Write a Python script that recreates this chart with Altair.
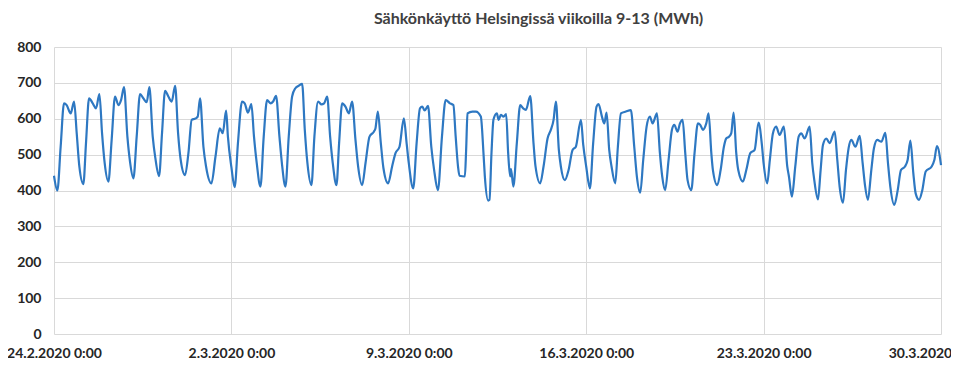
import json
import altair as alt
import pandas as pd

# hours since 24.2.2020 0:00
hours = [
    0, 3.2, 6.3, 9.5, 12, 15.8, 19, 21.5,
    24, 27.8, 30.3, 33.2, 36.7, 39.8, 43, 45.5,
    48, 51.5, 54.6, 57.8, 61, 63.5, 66.3, 69.5,
    72, 75.2, 78.3, 81.5, 84.6, 87.8, 90.3, 93.5,
    96, 99.5, 102.3, 105.2, 108.3, 111.5, 114.7, 117.5,
    120, 124.1, 127.3, 130.4, 134.2, 136.1, 138.3, 141.5,
    144, 149.1, 152.9, 157, 159.8, 163, 164.7,
    168, 171.1, 174.2, 178.1, 180.6, 183.7, 186.9, 189.4,
    192, 195.5, 198.6, 201.8, 205, 207.5, 210.3, 213.5,
    216, 219.2, 222.3, 225.5, 228.6, 231.8, 235, 237.5,
    240, 243.8, 246.6, 250.1, 253.3, 255.8, 258.7, 261.5,
    264, 267.5, 270, 272.9, 276, 279.2, 282.3, 285.5,
    288, 291.8, 295, 298.8, 302.9, 304.4, 306.7, 309.5,
    312, 316.4, 320.2, 323.4, 327.2, 331.3, 334,
    336, 340.2, 343.4, 346.6, 348.8, 351, 354.2, 357.3,
    360, 363.6, 367.4, 370.9, 375, 378.2, 380.4, 382.6,
    384, 389.1, 390.3, 391.6, 396.3, 399.5, 404.2, 406.8,
    408, 411.2, 412.4, 414.3, 416.2, 419.4, 421, 423.2, 425.7, 428.2, 430.1,
    432, 432.8, 435, 438.3, 441.5, 444.3, 446.9, 451, 454.1,
    456, 460.4, 463.6, 467.4, 470.5, 473.1, 475.3, 478.1,
    480, 483.8, 487.3, 491.1, 494.2, 499, 501.2,
    504, 507.5, 510.6, 513.8, 515.7, 518.9, 521.1, 523.3, 525.8,
    528, 531.5, 534, 536.9, 541.6, 546.3, 549.5,
    552, 555.2, 558, 561.2, 564.3, 566.9, 571, 573.8,
    576, 578.8, 582, 585.2, 587.4, 590.5, 592.8, 595.3, 597.8,
    600, 603.5, 606.6, 609.8, 612, 614.5, 617.7, 619.9, 622.5,
    624, 628.1, 631.3, 634.4, 636.6, 639.2, 641.4, 643.6, 646.1,
    648, 652.4, 655.6, 659.4, 663.5, 667.2, 670.4,
    672, 675.4, 677.9, 680.8, 683.9, 687.1, 691.2, 694.4,
    696, 698.8, 702, 705.2, 707.7, 710.9, 715.6, 718.1,
    720, 723.5, 726, 728.2, 731.4, 734.5, 739.3, 741.8,
    744, 747.2, 750, 752.5, 755.1, 758.9, 763, 765.8,
    768, 770.8, 774, 776.5, 779.7, 783.5, 787.3, 789.8,
    792, 795.8, 799, 802.1, 805.9, 808.4, 811, 813.8,
    816, 819.2, 822.3, 825.5, 831.2, 833.7, 836.2, 840,
]

mwh = [
    441, 400, 522, 643, 638, 615, 648, 560,
    467, 418, 532, 657, 643, 629, 669, 560,
    476, 425, 541, 662, 638, 652, 688, 550,
    480, 434, 550, 669, 657, 646, 688, 550,
    490, 440, 560, 678, 662, 648, 692, 560,
    485, 443, 504, 597, 601, 606, 657, 522,
    467, 420, 494, 573, 560, 623, 550,
    465, 409, 532, 648, 643, 617, 641, 550,
    476, 411, 550, 652, 643, 648, 664, 550,
    471, 411, 550, 662, 685, 692, 697, 569,
    476, 415, 550, 648, 640, 643, 662, 550,
    476, 415, 532, 643, 634, 615, 648, 541,
    467, 415, 476, 550, 564, 573, 620, 532,
    462, 420, 467, 504, 522, 601, 530,
    476, 406, 532, 629, 634, 623, 636, 522,
    457, 401, 550, 652, 643, 638, 550, 467,
    441, 439, 513, 615, 620, 620, 606, 500,
    440, 372, 374, 504, 598, 615, 597, 611, 606, 613, 504,
    439, 460, 411, 532, 638, 629, 625, 663, 532,
    467, 420, 467, 545, 569, 597, 648, 513,
    467, 429, 457, 513, 522, 597, 527,
    467, 406, 532, 634, 641, 606, 587, 617, 513,
    467, 420, 522, 615, 620, 624, 522,
    439, 394, 485, 578, 606, 587, 615, 504,
    439, 401, 485, 569, 583, 564, 587, 597, 504,
    429, 401, 504, 587, 583, 569, 587, 615, 504,
    457, 415, 457, 522, 545, 550, 560, 617, 504,
    457, 425, 457, 504, 513, 589, 527,
    476, 420, 485, 559, 578, 555, 578, 467,
    439, 383, 467, 550, 559, 545, 578, 476,
    429, 375, 457, 527, 545, 532, 564, 485,
    411, 366, 457, 518, 541, 522, 552, 476,
    415, 374, 457, 518, 541, 536, 561, 476,
    411, 360, 401, 457, 467, 485, 539, 448,
    392, 374, 401, 453, 467, 485, 524, 471,
]

tick_hours = [0, 168, 336, 504, 672, 840]
tick_labels = ["24.2.2020 0:00", "2.3.2020 0:00", "9.3.2020 0:00",
               "16.3.2020 0:00", "23.3.2020 0:00", "30.3.2020"]
y_ticks = [0, 100, 200, 300, 400, 500, 600, 700, 800]
title_text = "Sähkönkäyttö Helsingissä viikoilla 9-13 (MWh)"

df = pd.DataFrame({"h": hours, "v": mwh})

label_expr = (json.dumps(tick_labels) + "[indexof(" + json.dumps(tick_hours) + ", datum.value)]").replace('"', "'")

FONT = "Lato"
common_axis = dict(
    domain=False, ticks=False, title=None, grid=True,
    gridColor="#d9d9d9", gridWidth=1,
    labelFont=FONT, labelFontSize=14, labelFontWeight="bold",
    labelColor="#262626", labelOverlap=False,
)

chart = alt.Chart(df).mark_line(
    color="#2E78C2", strokeWidth=2.2, interpolate="monotone"
).encode(
    x=alt.X("h:Q", scale=alt.Scale(domain=[0, 840], nice=False, zero=False),
            axis=alt.Axis(values=tick_hours, labelExpr=label_expr,
                          labelOffset={"condition": {"test": "datum.value == 840", "value": -21}, "value": 0},
                          labelFlush=False, labelPadding=12, **common_axis)),
    y=alt.Y("v:Q", scale=alt.Scale(domain=[0, 800], nice=False),
            axis=alt.Axis(values=y_ticks, labelPadding=13, **common_axis)),
).properties(
    width=887, height=287,
    title=alt.TitleParams(title_text, font=FONT, fontSize=16, fontWeight="bold",
                          color="#404040", anchor="middle", dx=41, offset=13),
    autosize=alt.AutoSizeParams(type="none"),
    padding={"left": 46, "top": 39, "right": 10, "bottom": 30},
).configure_view(stroke=None)

chart.save("out.html", embed_options={"renderer": "svg", "actions": False})
